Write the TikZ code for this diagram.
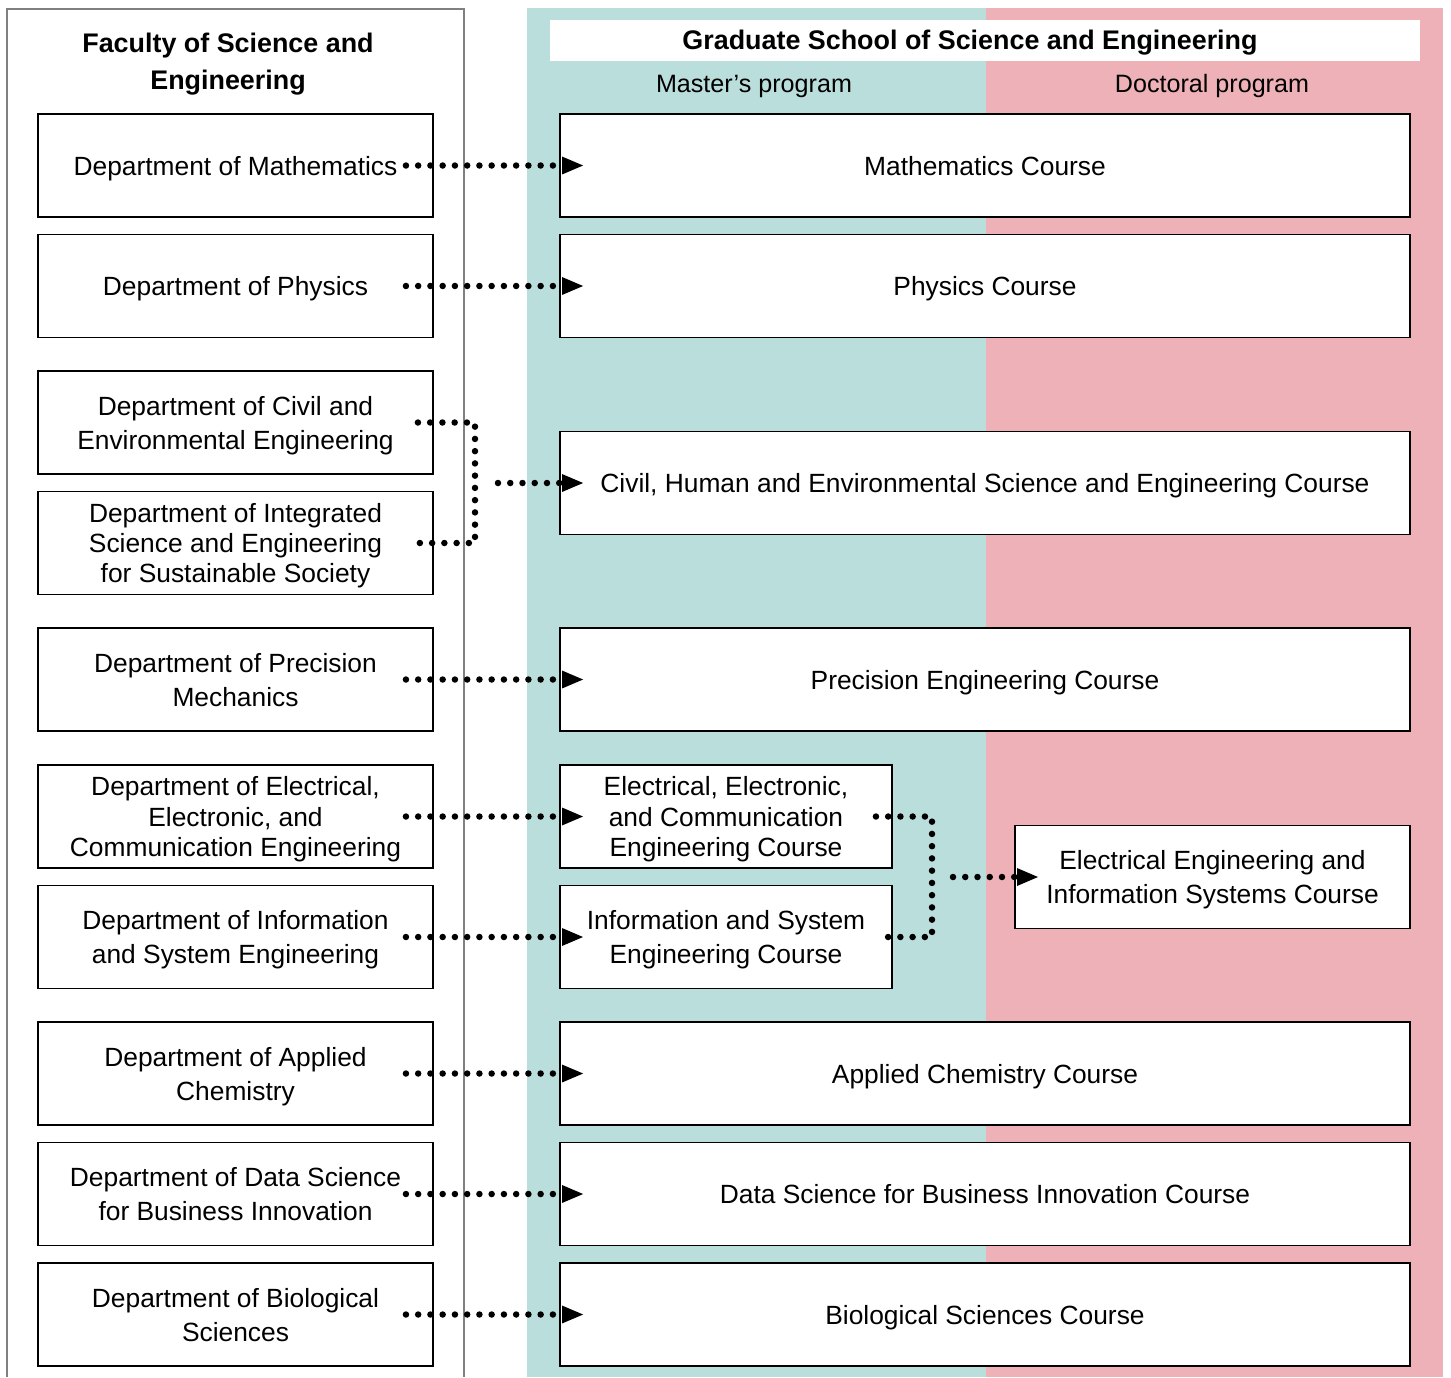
\documentclass[tikz,border=0pt]{standalone}
\usepackage{fontspec}
\setmainfont{Liberation Sans}
\usetikzlibrary{positioning}
\usetikzlibrary{arrows.meta}
\usetikzlibrary{calc}

\definecolor{mastercol}{RGB}{186,222,219}
\definecolor{doctorcol}{RGB}{237,177,183}

\tikzset{
  box/.style={draw, line width=1.1pt, fill=white, align=center, minimum height=2.06cm,
    text depth=0pt, font=\fontsize{15}{19.3}\selectfont},
  dept/.style={box, minimum width=7.9cm},
  course/.style={box, minimum width=17cm},
  half/.style={box, minimum width=6.64cm},
  tight/.style={font=\fontsize{15}{17.3}\selectfont},
  dotline/.style={line width=0.13cm, line cap=round, dash pattern=on 0pt off 0.245cm},
  dotarrow/.style={dotline, -{Triangle[length=0.44cm,width=0.32cm]}, shorten >=-0.5cm}
}

\begin{document}
\begin{tikzpicture}[x=0.02cm, y=-0.02cm]
  \useasboundingbox (0,0) rectangle (1451,1377);

  % background of the graduate school
  \fill[mastercol] (527,8) rectangle (986,1377);
  \fill[doctorcol] (986,8) rectangle (1443,1377);
  \fill[white] (550,20) rectangle (1420,61);
  \draw[gray, line width=0.6pt] (7,1377) -- (7,9) -- (464,9) -- (464,1377);

  % headings
  \node[align=center, font=\fontsize{15.3}{21.5}\selectfont\bfseries] (fac) at (228,64)
    {Faculty of Science and\\Engineering};
  \node[font=\fontsize{15.3}{18}\selectfont\bfseries] (gs) at (970,43)
    {Graduate School of Science and Engineering};
  \node[font=\fontsize{14.3}{18}\selectfont] (mp) at (754,86) {Master’s program};
  \node[font=\fontsize{14.3}{18}\selectfont] (dp) at (1212,86) {Doctoral program};

  % departments
  \node[dept] (math) at (235.5,165.5) {Department of Mathematics};
  \node[dept] (phys) at (235.5,286) {Department of Physics};
  \node[dept] (civ) at (235.5,422.5) {Department of Civil and\\Environmental Engineering};
  \node[dept, tight] (integ) at (235.5,543) {Department of Integrated\\Science and Engineering\\for Sustainable Society};
  \node[dept] (prec) at (235.5,679.5) {Department of Precision\\Mechanics};
  \node[dept, tight] (elec) at (235.5,816.5) {Department of Electrical,\\Electronic, and\\Communication Engineering};
  \node[dept] (info) at (235.5,937) {Department of Information\\and System Engineering};
  \node[dept] (chem) at (235.5,1073.5) {Department of Applied\\Chemistry};
  \node[dept] (data) at (235.5,1194) {Department of Data Science\\for Business Innovation};
  \node[dept] (bio) at (235.5,1314.5) {Department of Biological\\Sciences};

  % courses
  \node[course] (mathc) at (985,165.5) {Mathematics Course};
  \node[course] (physc) at (985,286) {Physics Course};
  \node[course] (civc) at (985,483) {Civil, Human and Environmental Science and Engineering Course};
  \node[course] (precc) at (985,679.5) {Precision Engineering Course};
  \node[half, tight] (elecc) at (726,816.5) {Electrical, Electronic,\\and Communication\\Engineering Course};
  \node[half] (infoc) at (726,937) {Information and System\\Engineering Course};
  \node[dept] (eec) at (1212.5,877) {Electrical Engineering and\\Information Systems Course};
  \node[course] (chemc) at (985,1073.5) {Applied Chemistry Course};
  \node[course] (datac) at (985,1194) {Data Science for Business Innovation Course};
  \node[course] (bioc) at (985,1314.5) {Biological Sciences Course};

  % one to one
  \foreach \a/\b in {math/mathc, phys/physc, prec/precc, elec/elecc, info/infoc,
                     chem/chemc, data/datac, bio/bioc}
    {\draw[dotarrow, shorten <=-0.56cm] (\a.east) -- (\b.west);}

  % merged ones
  \coordinate (civj) at (475,483);
  \coordinate (civs) at (498,483);
  \draw[dotline] ($(civ.east)+(-16,0)$) -| (civj) |- ($(integ.east)+(-16,0)$);
  \draw[dotarrow] (civs) -- (civc.west);

  \coordinate (eej) at (932,877);
  \coordinate (ees) at (953,877);
  \draw[dotline] ($(elecc.east)+(-17,0)$) -| (eej) |- ($(infoc.east)+(-17,0)$);
  \draw[dotarrow] (ees) -- (eec.west);
\end{tikzpicture}
\end{document}
